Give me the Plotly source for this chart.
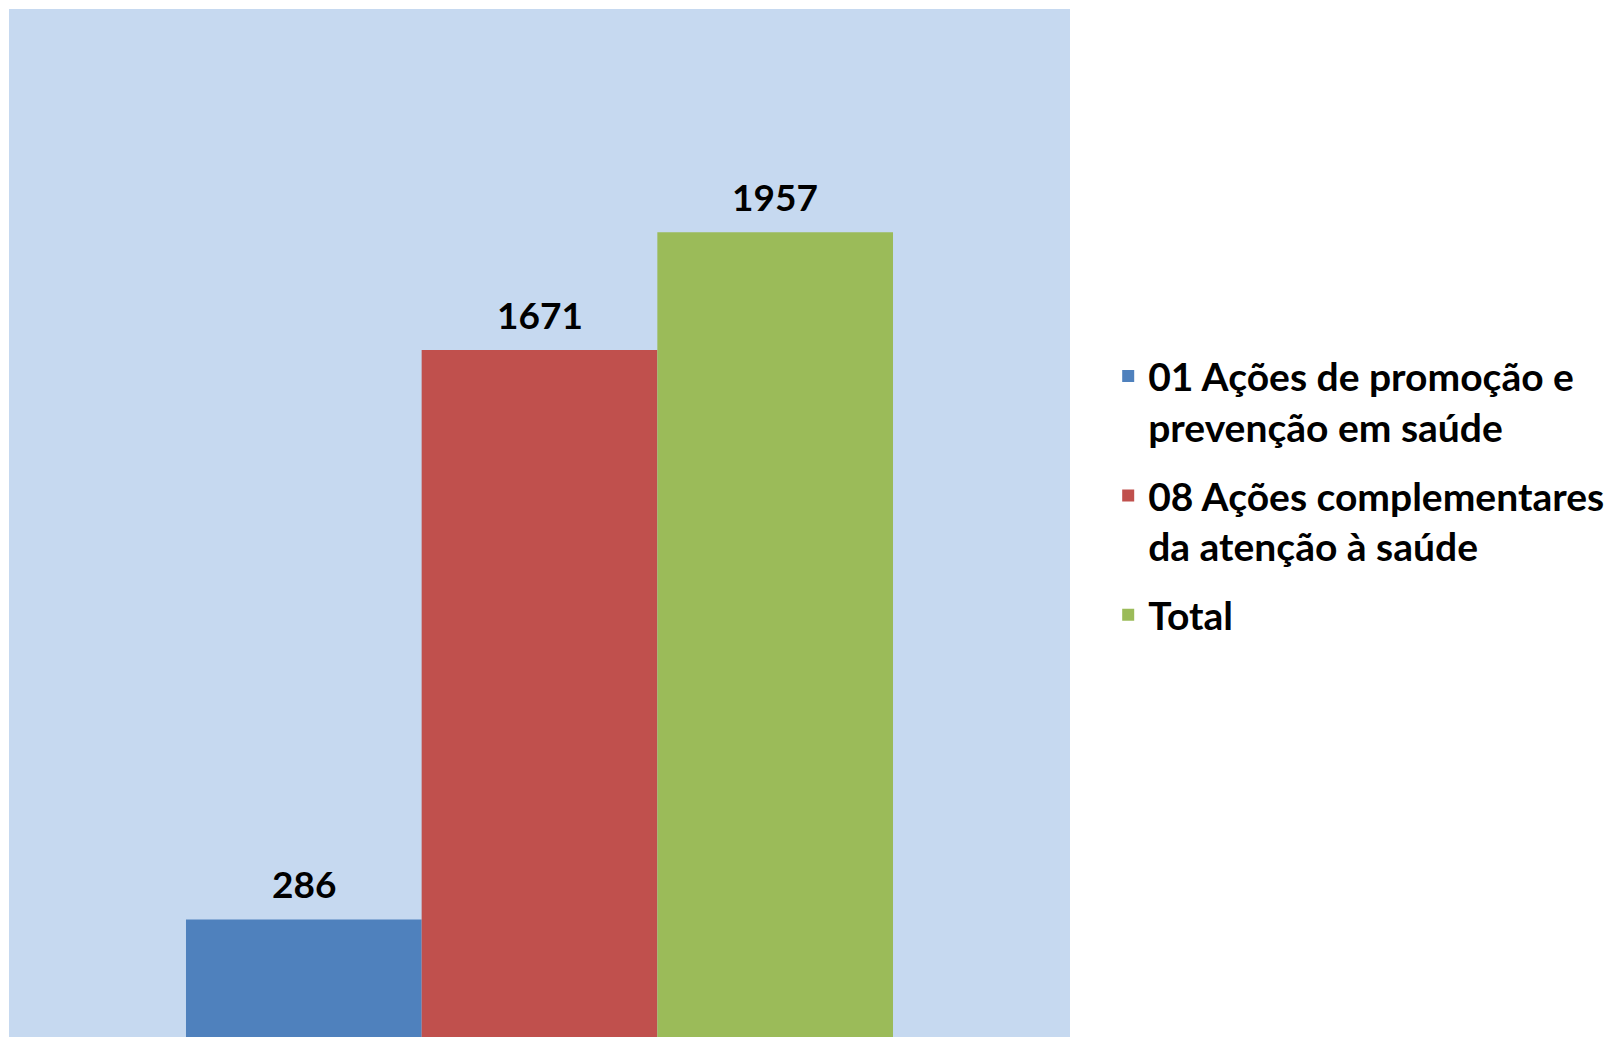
import plotly.graph_objects as go

series_names = [
    "01 Ações de promoção e<br>prevenção em saúde",
    "08 Ações complementares<br>da atenção à saúde",
    "Total",
]
series_values = [286, 1671, 1957]
series_colors = ["#4F81BD", "#C0504D", "#9BBB59"]
bar_positions = [0, 1, 2]

fig = go.Figure()

for name, value, color, pos in zip(series_names, series_values, series_colors, bar_positions):
    fig.add_trace(
        go.Bar(
            x=[pos],
            y=[value],
            width=1,
            name=name,
            legendgroup=str(pos),
            marker={"color": color, "line": {"width": 0}},
        )
    )
    fig.add_annotation(
        x=pos,
        y=value,
        text=f"<b>{value}</b>",
        showarrow=False,
        yanchor="bottom",
        yshift=11,
        font={"family": "Lato", "size": 37, "color": "black"},
    )

# page body has an 8px margin, so the plot margins are trimmed to match
fig.update_layout(
    width=1622,
    height=1037,
    margin={"l": 1, "r": 560, "t": 1, "b": 8},
    paper_bgcolor="white",
    plot_bgcolor="#C6D9F0",
    barmode="overlay",
    showlegend=True,
    legend=dict(
        x=1.036,
        xanchor="left",
        y=0.674,
        yanchor="top",
        valign="top",
        tracegroupgap=15,
        font=dict(family="Lato", size=39, color="black", weight="bold"),
        bgcolor="rgba(0,0,0,0)",
    ),
)

fig.update_xaxes(
    range=[-1.251, 3.251],
    visible=False,
    showgrid=False,
    zeroline=False,
)
fig.update_yaxes(
    range=[0, 2500],
    visible=False,
    showgrid=False,
    zeroline=False,
)

fig.write_html("out.html")
